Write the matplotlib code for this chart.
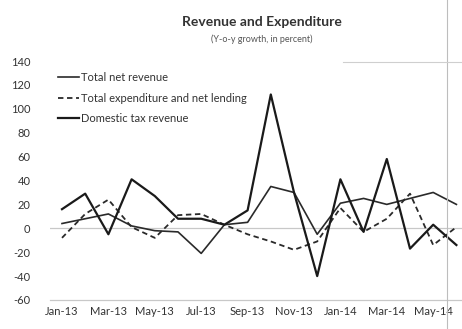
import numpy as np
import matplotlib as mpl
mpl.use('Agg')
import matplotlib.pyplot as plt
from matplotlib.lines import Line2D

plt.rcParams['font.family'] = ['Lato', 'DejaVu Sans']

# monthly y-o-y growth, Jan-13 .. Jun-14
months = ["Jan-13", "Feb-13", "Mar-13", "Apr-13", "May-13", "Jun-13", "Jul-13", "Aug-13", "Sep-13",
          "Oct-13", "Nov-13", "Dec-13", "Jan-14", "Feb-14", "Mar-14", "Apr-14", "May-14", "Jun-14"]
net_revenue = [4, 8, 12, 2, -2, -3, -21, 3, 5, 35, 30, -5, 21, 25, 20, 25, 30, 20]
expenditure = [-8, 12, 24, 1, -8, 11, 12, 3, -5, -11, -18, -11, 17, -3, 8, 29, -14, 1]
tax_revenue = [16, 29, -5, 41, 27, 8, 8, 3, 15, 112, 30, -40, 41, -3, 58, -17, 3, -14]
tick_labels = months[::2][:9]
yticks = list(range(-60, 141, 20))

fsize = 8
fig = plt.figure(figsize=(4.62, 3.29), dpi=100)
ax = fig.add_axes([50/462, 29/329, 412/462, 239/329])

x = np.arange(len(months))
ax.plot(x, net_revenue, '-', color='#2a2a2a', lw=1.2, label="Total net revenue")
ax.plot(x, expenditure, '--', color='#2a2a2a', lw=1.3, dashes=(3, 2), label="Total expenditure and net lending")
ax.plot(x, tax_revenue, '-', color='#1a1a1a', lw=1.6, label="Domestic tax revenue")

ax.axhline(0, color='#c8c8c8', lw=0.9, zorder=0)
ax.set_xlim(-12/23.2, 400/23.2)
ax.set_ylim(-60, 140)
ax.set_yticks(yticks)
ax.set_yticklabels([str(v) for v in yticks], fontsize=fsize, color='#333333')
ax.set_xticks(x[::2][:9])
ax.set_xticklabels(tick_labels, fontsize=fsize, color='#333333')
ax.tick_params(length=0, pad=4)
ax.tick_params(axis='y', pad=14)
for s in ['top', 'right', 'left']:
    ax.spines[s].set_visible(False)
ax.spines['bottom'].set_color('#c8c8c8')
ax.spines['bottom'].set_linewidth(0.9)

leg = ax.legend(loc='upper left', bbox_to_anchor=(0.0, 0.985), fontsize=fsize, frameon=False,
                handlelength=1.9, handletextpad=0.15, labelspacing=0.85, borderpad=0.2)
for t in leg.get_texts():
    t.set_color('#333333')

fig.text(262/462, 1 - 22/329, "Revenue and Expenditure", ha='center', va='center',
         fontsize=10, fontweight='bold', color='#333333')
fig.text(262/462, 1 - 39/329, "(Y-o-y growth, in percent)", ha='center', va='center',
         fontsize=6.5, color='#555555')

# page border lines around the chart
fig.add_artist(Line2D([447/462, 447/462], [0, 1], color='#bdbdbd', lw=0.8))
fig.add_artist(Line2D([343/462, 1], [1 - 62/329, 1 - 62/329], color='#cfcfcf', lw=0.8))

fig.savefig('out.png', dpi=100)
